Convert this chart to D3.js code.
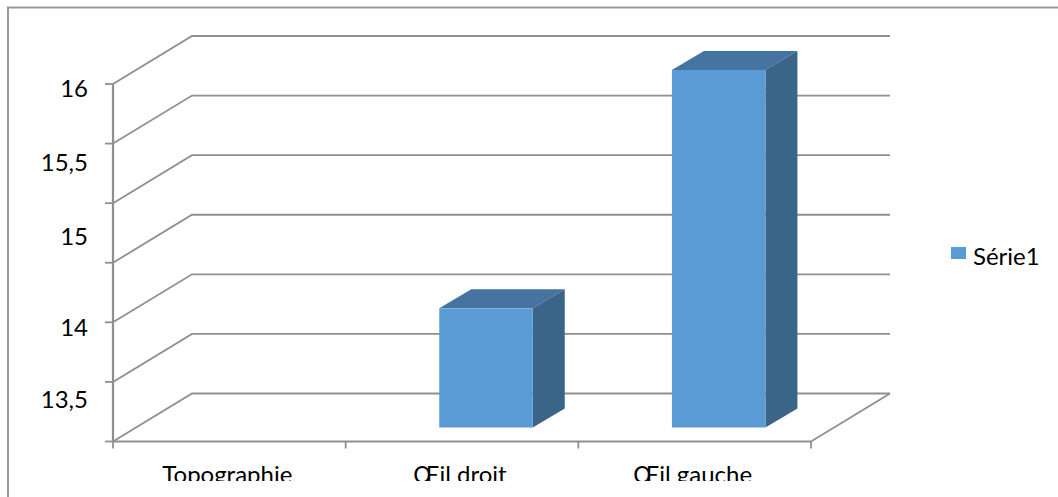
<!DOCTYPE html>
<html><head><meta charset="utf-8">
<script src="https://cdnjs.cloudflare.com/ajax/libs/d3/7.8.5/d3.min.js"></script>
<style>html,body{margin:0;padding:0;background:#fff;overflow:hidden}svg{display:block}text{font-family:Lato,"Open Sans",sans-serif;fill:#000}</style>
</head><body><div id="c"></div>
<script>
const categories = ["Topographie","Œil droit","Œil gauche"];
const seriesName = "Série1";
const values = [13, 14, 16];
const gridTicks = [13, 13.5, 14, 14.5, 15, 15.5, 16];
const tickLabels = ["13,5","14","15","15,5","16"];
const labelValues = [13.345, 13.951, 14.717, 15.34, 15.954];

const W=1058,H=497;
const svg=d3.select("#c").append("svg").attr("width",W).attr("height",H);
const y=d3.scaleLinear().domain([13,16]).range([441.5,84]);
const x=d3.scaleBand().domain(categories).range([113,811]);
const dx=79,dy=-48,barDx=32,barDy=-19,barBaseOffset=14;
const axisC="#8f8f8f";
svg.append("defs").append("clipPath").attr("id","clip").append("rect").attr("x",0).attr("y",0).attr("width",W).attr("height",481);
svg.append("path").attr("d",`M8,${H} V7.5 H${W}`).attr("fill","none").attr("stroke","#999").attr("stroke-width",2);

const grid=svg.append("g").attr("fill","none").attr("stroke",axisC).attr("stroke-width",1.8);
grid.selectAll("path").data(gridTicks).join("path")
  .attr("d",v=>`M${x.range()[0]},${y(v)} l${dx},${dy} H${x.range()[1]+dx}`);
grid.append("path").attr("d",`M${x.range()[1]},${y(13)} l${dx},${dy}`);
grid.append("path").attr("d",`M${x.range()[0]},${y(13)} H${x.range()[1]}`);
grid.append("path").attr("d",`M${x.range()[0]},${y(16)} V${y(13)}`).attr("stroke-width",2.2);
grid.selectAll("path.yt").data(gridTicks).join("path").attr("class","yt")
  .attr("d",v=>`M${x.range()[0]-8},${y(v)} H${x.range()[0]}`);
grid.selectAll("path.xt").data(d3.range(categories.length+1)).join("path").attr("class","xt")
  .attr("d",i=>{const px=x.range()[0]+i*x.step();return `M${px},${y(13)} v7`;});

const barW=93.5;
const base=y(13)-barBaseOffset;
const shift=v=>y(v)-y(13);
const bars=svg.append("g").selectAll("g").data(categories.map((c,i)=>({c,v:values[i]})).filter(d=>d.v>13)).join("g");
const left=d=>x(d.c)+x.bandwidth()/2-barW/2+24;
bars.append("path").attr("fill","#44749f").attr("d",d=>{const X=left(d),T=base+shift(d.v);return `M${X},${T} l${barDx},${barDy} h${barW} l${-barDx},${-barDy} Z`;});
bars.append("path").attr("fill","#3a6488").attr("d",d=>{const X=left(d)+barW,T=base+shift(d.v);return `M${X},${T} l${barDx},${barDy} V${base+barDy} L${X},${base} Z`;});
bars.append("rect").attr("fill","#5b9bd5").attr("x",left).attr("y",d=>base+shift(d.v)).attr("width",barW).attr("height",d=>-shift(d.v));

svg.append("g").selectAll("text").data(tickLabels).join("text")
  .attr("x",88).attr("text-anchor","end").attr("font-size",24)
  .attr("y",(d,i)=>y(labelValues[i])+8).text(d=>d);
svg.append("g").attr("clip-path","url(#clip)").selectAll("text").data(categories).join("text")
  .attr("x",c=>x(c)+x.bandwidth()/2-2).attr("y",482.5).attr("text-anchor","middle").attr("font-size",24).text(c=>c);
svg.append("rect").attr("x",951).attr("y",247).attr("width",15).attr("height",12).attr("fill","#5b9bd5");
svg.append("text").attr("x",973).attr("y",265).attr("font-size",24).text(seriesName);
</script></body></html>
